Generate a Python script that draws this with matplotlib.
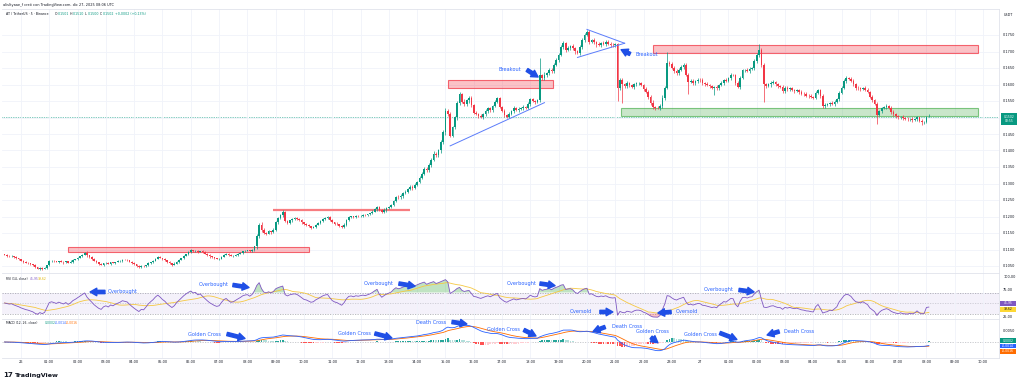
import numpy as np
import pandas as pd
import matplotlib
matplotlib.use("Agg")
import matplotlib.pyplot as plt
from matplotlib.patches import Rectangle

# ---------------------------------------------------------------- data
start_index = -7          # first 5-min bar, counted from 26 Dec 00:00
first_open = 1085         # prices in 1e-4 USDT
closes = [
    1083, 1081, 1079, 1080, 1076, 1073, 1070,
    1066, 1063, 1060, 1058, 1055, 1052, 1046, 1042, 1045, 1041, 1043, 1052,
    1064, 1066, 1064, 1062, 1065, 1063, 1061, 1064, 1060, 1063, 1068, 1071,
    1075, 1079, 1084, 1089, 1082, 1077, 1072, 1066, 1061, 1056, 1053, 1058,
    1060, 1057, 1061, 1059, 1062, 1064, 1066, 1069, 1068, 1067, 1063, 1059,
    1055, 1051, 1047, 1050, 1049, 1053, 1058, 1062, 1066, 1072, 1077, 1074,
    1070, 1067, 1062, 1058, 1054, 1057, 1063, 1068, 1074, 1080, 1086, 1092,
    1097, 1094, 1096, 1092, 1095, 1091, 1087, 1083, 1079, 1076, 1073, 1071,
    1072, 1078, 1084, 1087, 1083, 1080, 1081, 1084, 1087, 1090, 1094, 1096,
    1097, 1095, 1099, 1110, 1140, 1175, 1160, 1150, 1148, 1155, 1152, 1160,
    1183, 1195, 1205, 1214, 1185, 1180, 1188, 1192, 1195, 1193, 1188, 1182,
    1176, 1174, 1170, 1166, 1168, 1175, 1180, 1186, 1192, 1196, 1198, 1190,
    1182, 1178, 1176, 1172, 1168, 1175, 1188, 1198, 1200, 1198, 1202, 1201,
    1203, 1205, 1204, 1207, 1210, 1215, 1222, 1229, 1220, 1214, 1220, 1226,
    1230, 1235, 1248, 1260, 1258, 1262, 1270, 1275, 1282, 1290, 1286, 1296,
    1305, 1318, 1330, 1345, 1340, 1356, 1372, 1390, 1385, 1400, 1425, 1455,
    1520, 1510, 1445, 1470, 1500, 1545, 1570, 1548, 1540, 1552, 1560, 1538,
    1515, 1512, 1505, 1500, 1510, 1520, 1528, 1522, 1535, 1548, 1558, 1533,
    1520, 1508, 1502, 1512, 1520, 1528, 1522, 1526, 1530, 1532, 1530, 1540,
    1555, 1550, 1548, 1552, 1628, 1620, 1630, 1635, 1645, 1640, 1660, 1674,
    1690, 1715, 1726, 1705, 1712, 1716, 1711, 1700, 1695, 1715, 1735, 1750,
    1758, 1730, 1735, 1728, 1722, 1720, 1726, 1724, 1729, 1724, 1721, 1720,
    1722, 1590, 1614, 1600, 1595, 1605, 1598, 1592, 1600, 1604, 1604, 1598,
    1585, 1577, 1562, 1545, 1532, 1530, 1529, 1535, 1560, 1590, 1665, 1662,
    1650, 1640, 1635, 1645, 1652, 1659, 1630, 1608, 1612, 1605, 1610, 1615,
    1614, 1604, 1602, 1598, 1594, 1590, 1592, 1588, 1598, 1605, 1614, 1612,
    1620, 1629, 1628, 1605, 1593, 1620, 1644, 1645, 1642, 1648, 1650, 1670,
    1689, 1705, 1660, 1600, 1596, 1600, 1606, 1608, 1600, 1594, 1593, 1580,
    1590, 1585, 1588, 1583, 1580, 1582, 1577, 1572, 1570, 1566, 1565, 1562,
    1560, 1575, 1583, 1565, 1535, 1538, 1540, 1545, 1542, 1548, 1555, 1575,
    1590, 1610, 1620, 1618, 1612, 1600, 1590, 1588, 1585, 1590, 1584, 1578,
    1562, 1552, 1540, 1508, 1520, 1528, 1532, 1535, 1530, 1518, 1510, 1505,
    1500, 1503, 1497, 1495, 1494, 1496, 1493, 1495, 1500, 1490, 1485, 1486,
    1501, 1502,
]
wick_up = [int(c) for c in (
    "2312132"
    "213121412132" "312213121421" "213251312142" "131213221312"
    "221321312142" "131224121312" "413212413121" "121314212313"
    "213264753424" "354643242534" "243132423342" "324234523143"
    "243124332453" "342356453445" "454656475676" "657465748565"
    "453546354645" "354436453546" "453565746565" "657465746556"
    "564657465546" "546567456455" "465574657566" "657465746545"
    "453546354645" "354465436546" "576564654546" "453545354645"
    "354465436546" "465354645354" "354645463545" "435463545354"
    "38")]
wick_dn = [int(c) for c in (
    "1321213"
    "231213124213" "213132412131" "312142313213" "213131241312"
    "132413213121" "312131241312" "231313124131" "312131213241"
    "132475634253" "463534342435" "342423134243" "243342313424"
    "342313242345" "234354534354" "545465746576" "756547656475"
    "546354645354" "453546354645" "546456576465" "756546574665"
    "465574656465" "657456546564" "546657465746" "465746574656"
    "546354645354" "453546354645" "657465746546" "546354645354"
    "453546354645" "546354645354" "453546354645" "546354645354"
    "41")]
# long wicks: bar -> (high, low) in 1e-4 (None = keep)
long_wicks = {180: (1530, None), 182: (None, 1440), 186: (1578, None),
              220: (1680, None), 230: (1732, None), 240: (1765, None),
              253: (None, 1550), 255: (None, 1544), 274: (1698, None),
              283: (None, 1570), 294: (None, 1568), 313: (1722, None),
              315: (None, 1547), 340: (None, 1528), 363: (None, 1480),
              382: (None, 1478)}

# support / resistance zones: (bar_from, bar_to, price_lo, price_hi, kind)
zones = [(20, 122, 0.1092, 0.1108, "res"),
         (181, 225.6, 0.1590, 0.1614, "res"),
         (268, 406, 0.1695, 0.1720, "res"),
         (254.5, 406, 0.1505, 0.1529, "sup")]
res_line = (107, 165, 0.1220)
trend_lines = [((182, 0.1414), (222, 0.1545)),
               ((240, 0.1767), (256, 0.1725)),
               ((236, 0.1682), (256, 0.1725))]
last_price = 0.1502
rsi_display = ("45,95", "39,62")
macd_display = ("0,0002", "-0,0014", "-0,0016")
hours = list(range(0, 35))
price_ticks = [0.105, 0.110, 0.115, 0.120, 0.125, 0.130, 0.135, 0.140,
               0.145, 0.150, 0.155, 0.160, 0.165, 0.170, 0.175]

# ---------------------------------------------------------------- derived
n = len(closes)
assert len(wick_up) == n and len(wick_dn) == n, (n, len(wick_up), len(wick_dn))
x = np.arange(start_index, start_index + n)
c = np.array(closes, float) / 1e4
o = np.r_[first_open / 1e4, c[:-1]]
hi = np.maximum(o, c) + np.array(wick_up) / 1e4
lo = np.minimum(o, c) - np.array(wick_dn) / 1e4
for b, (h_, l_) in long_wicks.items():
    k = b - start_index
    if h_ is not None:
        hi[k] = h_ / 1e4
    if l_ is not None:
        lo[k] = l_ / 1e4

# RSI 14 (Wilder), neutral seed for the unseen history
d = np.diff(c, prepend=c[0])
ag, al = 0.0004, 0.0004
rsi = np.empty(n)
for k in range(n):
    ag = (ag * 13 + max(d[k], 0)) / 14
    al = (al * 13 + max(-d[k], 0)) / 14
    rsi[k] = 100 - 100 / (1 + ag / al)
rsi_ma = pd.Series(rsi).rolling(14, min_periods=1).mean().values

s = pd.Series(c)
macd = (s.ewm(span=12, adjust=False).mean() - s.ewm(span=26, adjust=False).mean()).values
sig = pd.Series(macd).ewm(span=9, adjust=False).mean().values
hist = macd - sig

# ---------------------------------------------------------------- figure
W, H = 1024, 385
fig = plt.figure(figsize=(W / 100, H / 100), dpi=100)
fig.patch.set_facecolor("white")
plt.rcParams["font.family"] = ["DejaVu Sans"]

def rect(x0, y0, x1, y1):
    return [x0 / W, 1 - y1 / H, (x1 - x0) / W, (y1 - y0) / H]

def ftxt(px, py, s, color="#131722", size=2.5, **kw):
    fig.text(px / W, 1 - py / H, s, color=color, fontsize=size, va="center", **kw)

def fbox(x0, y0, x1, y1, color, s, tcolor="white", size=2.4):
    fig.patches.append(Rectangle((x0 / W, 1 - y1 / H), (x1 - x0) / W, (y1 - y0) / H,
                                 transform=fig.transFigure, facecolor=color,
                                 edgecolor="none", zorder=5))
    fig.text((x0 + x1) / 2 / W, 1 - (y0 + y1) / 2 / H, s, color=tcolor, fontsize=size,
             ha="center", va="center", zorder=6, linespacing=1.1)

L, R = 2, 999
ax_p = fig.add_axes(rect(L, 9, R, 273))
ax_r = fig.add_axes(rect(L, 273, R, 319))
ax_m = fig.add_axes(rect(L, 319, R, 358))
XL = ((L - 21) / 2.358, (R - 21) / 2.358)
GRID = "#f0f3fa"
BORDER = "#e0e3eb"
hour_pos = [12 * h for h in hours]
hour_lab = ["26" if h == 0 else "27" if h == 24 else f"{h % 24:02d}:00" for h in hours]

for ax in (ax_p, ax_r, ax_m):
    ax.set_xlim(*XL)
    ax.set_facecolor("white")
    ax.set_xticks(hour_pos)
    ax.grid(axis="x", color=GRID, lw=0.6, zorder=0)
    ax.yaxis.tick_right()
    ax.tick_params(axis="both", length=0, labelsize=2.5, labelcolor="#131722", pad=3)
    for sp in ax.spines.values():
        sp.set_color(BORDER)
        sp.set_linewidth(0.6)
    ax.spines["left"].set_visible(False)
for ax in (ax_p, ax_r):
    ax.set_xticklabels([])
ax_m.set_xticklabels(hour_lab)
ax_m.tick_params(axis="x", pad=1.5)

# ---------------- price pane
ax_p.set_ylim(0.175 - (273 - 35) / 3300, 0.175 + (35 - 9) / 3300)
ax_p.set_yticks(price_ticks)
# the last-price box covers the 0,1500 label, as in the reference
ax_p.set_yticklabels(["" if abs(v - last_price) < 0.001 else f"{v:.4f}".replace(".", ",")
                      for v in price_ticks])
ax_p.grid(axis="y", color=GRID, lw=0.6, zorder=0)

for (b0, b1, p0, p1, kind) in zones:
    if kind == "res":
        fc, ec = (0.949, 0.212, 0.271, 0.30), (0.949, 0.212, 0.271, 0.75)
    else:
        fc, ec = (0.298, 0.686, 0.314, 0.30), (0.298, 0.686, 0.314, 0.70)
    ax_p.add_patch(Rectangle((b0, p0), b1 - b0, p1 - p0, facecolor=fc, edgecolor=ec,
                             lw=0.8, zorder=2))
ax_p.plot([res_line[0], res_line[1]], [res_line[2]] * 2, color="#f77c80", lw=1.6,
          zorder=2, solid_capstyle="butt")
for (a, b) in trend_lines:
    ax_p.plot([a[0], b[0]], [a[1], b[1]], color="#5b7cfa", lw=0.7, zorder=4)
ax_p.axhline(last_price, color="#089981", lw=0.5, ls=(0, (1, 1.5)), zorder=1)

up = c >= o
col = np.where(up, "#089981", "#f23645")
ax_p.vlines(x, lo, hi, colors=col, lw=0.5, zorder=3)
body = np.maximum(np.abs(c - o), 0.00006)
ax_p.bar(x, body, bottom=np.minimum(o, c), width=0.72, color=col, lw=0, zorder=3)

ARW = "#1f4fe6"
TXT = "#2962ff"

def arrow(ax, tail, head):
    ax.annotate("", xy=head, xytext=tail, annotation_clip=False, zorder=7,
                arrowprops=dict(arrowstyle="simple,head_length=0.8,head_width=0.9,tail_width=0.4",
                                color=ARW, mutation_scale=6, shrinkA=0, shrinkB=0))

def note(ax, xy, s):
    ax.text(xy[0], xy[1], s, color=TXT, fontsize=3.6, ha="left", va="center",
            clip_on=False, zorder=7)

note(ax_p, (202.3, 0.1644), "Breakout")
arrow(ax_p, (214.6, 0.1644), (219.3, 0.16227))
note(ax_p, (260.8, 0.16894), "Breakout")
arrow(ax_p, (258.3, 0.16925), (254.5, 0.17055))

# ---------------- RSI pane
ax_r.set_ylim(30 - 5.5 / 0.525, 70 + 19.5 / 0.525)
ax_r.set_yticks([25, 75, 100])
ax_r.set_yticklabels(["25,00", "75,00", "100,00"])
ax_r.axhspan(30, 70, color="#7e57c2", alpha=0.08, lw=0, zorder=1)
for lvl, a in ((70, 0.8), (50, 0.45), (30, 0.8)):
    ax_r.axhline(lvl, color="#787b86", lw=0.45, ls=(0, (2, 2)), alpha=a, zorder=1)
ax_r.fill_between(x, rsi, 70, where=rsi >= 70, interpolate=True, color="#4caf50",
                  alpha=0.35, lw=0, zorder=2)
ax_r.fill_between(x, rsi, 30, where=rsi <= 30, interpolate=True, color="#f23645",
                  alpha=0.3, lw=0, zorder=2)
ax_r.plot(x, rsi_ma, color="#f5c842", lw=0.6, zorder=3)
ax_r.plot(x, rsi, color="#7e57c2", lw=0.6, zorder=4)

for tx, tail, head in [((36.9, 71), (35.6, 71), (29.3, 71)),
                       ((75.5, 84.3), (89.9, 84.3), (96.7, 79.5)),
                       ((145.5, 87), (160.3, 87), (167.1, 82)),
                       ((206.1, 87), (220.1, 87), (226.5, 83)),
                       ((289.7, 74.8), (304.5, 74.8), (310.9, 71))]:
    note(ax_r, tx, "Overbought")
    arrow(ax_r, tail, head)
note(ax_r, (232.8, 32.9), "Oversold")
arrow(ax_r, (245.5, 32.9), (251.0, 32.9))
note(ax_r, (277.8, 32.9), "Oversold")
arrow(ax_r, (275.7, 32.9), (270.1, 31.0))

# ---------------- MACD pane
ax_m.set_ylim(-(358 - 342) / 12 * 0.005, (342 - 319) / 12 * 0.005)
ax_m.set_yticks([0.005])
ax_m.set_yticklabels(["0,0050"])
ax_m.axhline(0, color="#787b86", lw=0.45, ls=(0, (2, 2)), alpha=0.6, zorder=1)
prev = np.r_[hist[0], hist[:-1]]
hcol = np.where(hist >= 0, np.where(hist >= prev, "#26a69a", "#b2dfdb"),
                np.where(hist < prev, "#ff5252", "#ffcdd2"))
ax_m.bar(x, hist, width=0.72, color=hcol, lw=0, zorder=2)
ax_m.plot(x, sig, color="#ff6d00", lw=0.6, zorder=3)
ax_m.plot(x, macd, color="#2962ff", lw=0.6, zorder=4)

for s_, tx, tail, head in [
        ("Golden Cross", (70.8, 0.00333), (87.4, 0.00333), (95.0, 0.00146)),
        ("Golden Cross", (134.4, 0.00354), (150.1, 0.00354), (157.3, 0.00167)),
        ("Death Cross", (167.5, 0.00792), (182.8, 0.00833), (189.1, 0.0075)),
        ("Golden Cross", (197.6, 0.0052), (213.3, 0.005), (218.4, 0.0025)),
        ("Death Cross", (250.6, 0.00625), (247.7, 0.00625), (242.6, 0.00437)),
        ("Golden Cross", (260.8, 0.00458), (267.2, 0.0019), (270.1, -0.0003)),
        ("Golden Cross", (281.2, 0.00333), (296.4, 0.00375), (303.6, 0.00104)),
        ("Death Cross", (323.6, 0.00437), (321.5, 0.00437), (316.4, 0.0029))]:
    note(ax_m, tx, s_)
    arrow(ax_m, tail, head)

# ---------------- texts & value boxes
ftxt(3, 5, "alisltyaae_f creó con TradingView.com, dic 27, 2025 08:06 UTC", size=2.5)
ftxt(6, 14, "AT / TetherUS · 5 · Binance", size=2.3)
TEAL = "#089981"
for px, k, v in [(55, "O", "0,1501"), (70, "H", "0,1510"), (85, "L", "0,1500"),
                 (99.5, "C", "0,1502")]:
    ftxt(px, 14, k, size=2.3)
    ftxt(px + 2.8, 14, v, color=TEAL, size=2.3)
ftxt(115, 14, "+0,0002 (+0,13%)", color=TEAL, size=2.3)

ftxt(6, 279, "RSI (14, close)", size=2.2)
ftxt(30, 279, rsi_display[0], color="#7e57c2", size=2.2)
ftxt(38, 279, rsi_display[1], color="#e0b400", size=2.2)
ftxt(6, 323, "MACD (12, 26, close)", size=2.2)
ftxt(45, 323, macd_display[0], color=TEAL, size=2.2)
ftxt(55, 323, macd_display[1], color="#2962ff", size=2.2)
ftxt(66, 323, macd_display[2], color="#ff6d00", size=2.2)

ftxt(1004, 15, "USDT", size=2.4)
fbox(1001, 113, 1017, 125, "#089981", "0,1502\n03:55", size=2.2)
fbox(1000, 301, 1016, 306, "#7e57c2", rsi_display[0], size=2.2)
fbox(1000, 307, 1016, 312, "#fdd835", rsi_display[1], tcolor="#131722", size=2.2)
fbox(1000, 338, 1016, 343, "#089981", macd_display[0], size=2.2)
fbox(1000, 344, 1016, 348, "#2962ff", macd_display[1], size=2.2)
fbox(1000, 349, 1016, 354, "#ff6d00", macd_display[2], size=2.2)

ftxt(3, 375, "17", size=5, fontweight="bold")
ftxt(15, 375, "TradingView", size=4.6, fontweight="bold")

fig.savefig("out.png", dpi=100, facecolor="white")
